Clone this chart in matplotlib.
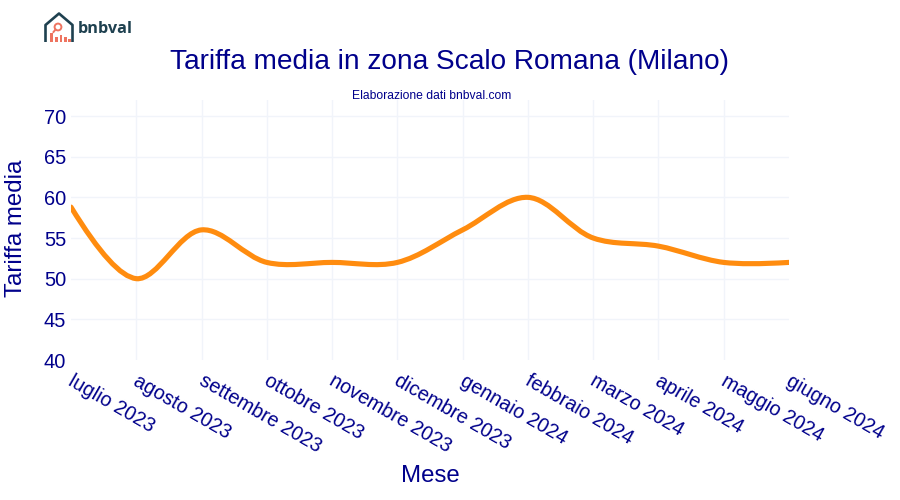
import matplotlib
matplotlib.use('Agg')
import matplotlib.pyplot as plt
import numpy as np
from matplotlib.path import Path
from matplotlib.patches import PathPatch, Polygon, Rectangle, Circle
from matplotlib.transforms import ScaledTranslation

plt.rcParams['font.family'] = ['Liberation Sans', 'DejaVu Sans']

months = ['luglio 2023', 'agosto 2023', 'settembre 2023', 'ottobre 2023',
          'novembre 2023', 'dicembre 2023', 'gennaio 2024', 'febbraio 2024',
          'marzo 2024', 'aprile 2024', 'maggio 2024', 'giugno 2024']
rates = [58.8, 50, 56, 52, 52, 52, 56, 60, 55, 54, 52, 52]
y_ticks = [40, 45, 50, 55, 60, 65, 70]

NAVY = '#00008b'
ORANGE = '#ff8c0f'
GRID = '#f1f4fa'
LOGO_DARK = '#1f4150'
LOGO_RED = '#ee7460'


def spline_path(x, y, sx, sy):
    # cardinal spline through the points, tangents worked out in pixel space
    pts = np.column_stack([np.array(x) * sx, np.array(y) * sy])
    tangents = []
    for i in range(1, len(pts) - 1):
        d1 = pts[i - 1] - pts[i]
        d2 = pts[i + 1] - pts[i]
        a1 = np.hypot(*d1) ** 0.5
        a2 = np.hypot(*d2) ** 0.5
        num = a2 * a2 * d1 - a1 * a1 * d2
        tangents.append((pts[i] + num / (3 * a2 * (a1 + a2)),
                         pts[i] - num / (3 * a1 * (a1 + a2))))

    verts = [pts[0], tangents[0][0], pts[1]]
    codes = [Path.MOVETO, Path.CURVE3, Path.CURVE3]
    for i in range(1, len(pts) - 2):
        verts += [tangents[i - 1][1], tangents[i][0], pts[i + 1]]
        codes += [Path.CURVE4] * 3
    verts += [tangents[-1][1], pts[-1]]
    codes += [Path.CURVE3] * 2
    return Path(np.array(verts) / [sx, sy], codes)


fig = plt.figure(figsize=(9, 5), dpi=100)
ax = fig.add_axes([71 / 900, 1 - 360 / 500, 718 / 900, 260 / 500])

x = np.arange(len(months))
ax.set_xlim(0, len(months) - 1)
ax.set_ylim(40, 71.97)

ax.add_patch(PathPatch(spline_path(x, rates, 718 / 11, 260 / 31.97), fill=False,
                       edgecolor=ORANGE, linewidth=3.7, capstyle='round',
                       joinstyle='round', zorder=3))

ax.set_xticks(x)
ax.set_xticklabels(months, rotation=-30, ha='left', va='top', rotation_mode='anchor')
ax.set_yticks(y_ticks)
ax.tick_params(axis='both', length=0, labelcolor=NAVY)
ax.tick_params(axis='x', pad=8, labelsize=14.2)
ax.tick_params(axis='y', pad=3.5, labelsize=14.4)
ax.grid(True, color=GRID, linewidth=1)
ax.set_axisbelow(True)
for spine in ax.spines.values():
    spine.set_visible(False)
# the outer grid lines at the edges of the plot are not drawn
ax.xaxis.get_gridlines()[0].set_visible(False)
ax.xaxis.get_gridlines()[-1].set_visible(False)
ax.yaxis.get_gridlines()[0].set_visible(False)
# nudge the slanted month labels to the right of their ticks
offset = ScaledTranslation(3.5 / 100, 0, fig.dpi_scale_trans)
for label in ax.get_xticklabels():
    label.set_transform(label.get_transform() + offset)

fig.text(430 / 900, 1 - 476.5 / 500, 'Mese', color=NAVY, fontsize=17.3, ha='center', va='center')
fig.text(16 / 900, 1 - 228.5 / 500, 'Tariffa media', color=NAVY, fontsize=17.3, rotation=90,
         ha='center', va='center')
fig.text(450 / 900, 1 - 62 / 500, 'Tariffa media in zona Scalo Romana (Milano)', color=NAVY,
         fontsize=20.2, ha='center', va='center')
fig.text(431.5 / 900, 1 - 96 / 500, 'Elaborazione dati bnbval.com', color=NAVY, fontsize=8.75,
         ha='center', va='center')

# logo, laid out in pixel coordinates
logo = fig.add_axes([0, 0, 1, 1], facecolor='none')
logo.set_xlim(0, 900)
logo.set_ylim(500, 0)
logo.axis('off')
logo.add_patch(Polygon([(45.5, 42), (45.5, 25), (59, 13.5), (72.5, 25), (72.5, 42)], closed=False,
                       fill=False, edgecolor=LOGO_DARK, linewidth=1.9, joinstyle='round'))
logo.add_patch(Circle((58, 27), 3.4, fill=False, edgecolor=LOGO_RED, linewidth=1.4))
logo.plot([55.5, 53.5], [29.5, 32], color=LOGO_RED, linewidth=1.4)
for bar_x, bar_top in [(50, 33), (55, 37), (59.5, 35), (64, 37), (68, 39)]:
    logo.add_patch(Rectangle((bar_x, bar_top), 2.8, 42 - bar_top, color=LOGO_RED, linewidth=0))
logo.text(78, 28.8, 'bnbval', color=LOGO_DARK, fontsize=11.7, fontweight='bold',
          family=['Open Sans', 'DejaVu Sans'], ha='left', va='center')

fig.savefig('out.png', dpi=100)
